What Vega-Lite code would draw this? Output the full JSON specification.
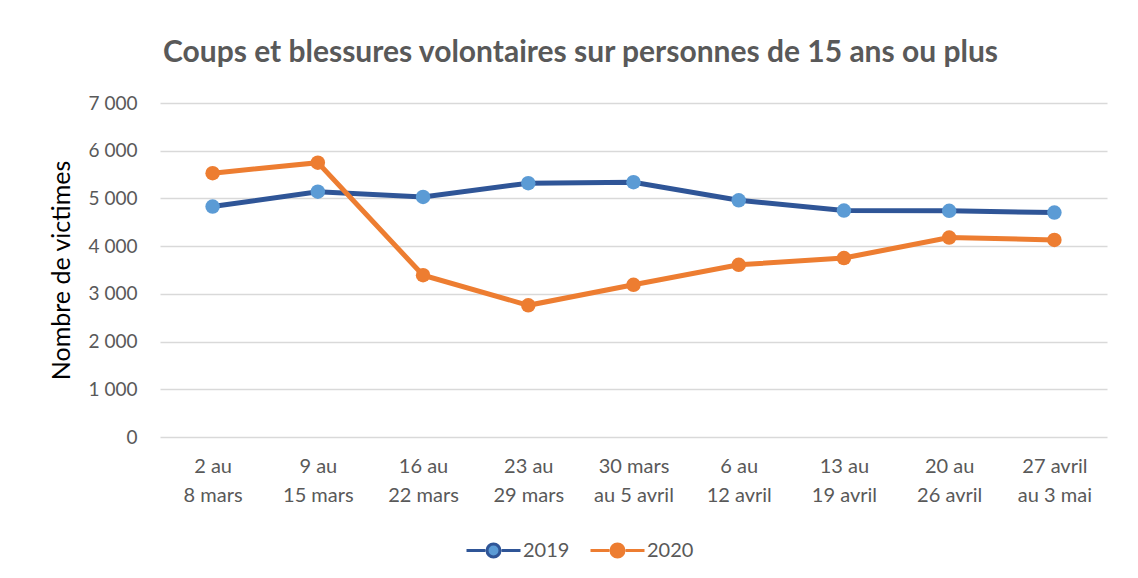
{
  "$schema": "https://vega.github.io/schema/vega-lite/v6.json",
  "width": 947,
  "height": 334,
  "autosize": {"type": "none"},
  "padding": {"left": 160, "top": 103, "right": 31, "bottom": 141},
  "background": "white",
  "title": {
    "text": "Coups et blessures volontaires sur personnes de 15 ans ou plus",
    "font": "Lato",
    "fontSize": 30,
    "fontWeight": "bold",
    "color": "#595959",
    "anchor": "middle",
    "frame": "group",
    "dx": -53,
    "offset": 26
  },
  "data": {
    "values": [
      {"semaine": "2 au|8 mars", "annee": "2019", "victimes": 4830},
      {"semaine": "9 au|15 mars", "annee": "2019", "victimes": 5140},
      {"semaine": "16 au|22 mars", "annee": "2019", "victimes": 5030},
      {"semaine": "23 au|29 mars", "annee": "2019", "victimes": 5320},
      {"semaine": "30 mars|au 5 avril", "annee": "2019", "victimes": 5340},
      {"semaine": "6 au|12 avril", "annee": "2019", "victimes": 4960},
      {"semaine": "13 au|19 avril", "annee": "2019", "victimes": 4745},
      {"semaine": "20 au|26 avril", "annee": "2019", "victimes": 4740},
      {"semaine": "27 avril|au 3 mai", "annee": "2019", "victimes": 4705},
      {"semaine": "2 au|8 mars", "annee": "2020", "victimes": 5530},
      {"semaine": "9 au|15 mars", "annee": "2020", "victimes": 5750},
      {"semaine": "16 au|22 mars", "annee": "2020", "victimes": 3390},
      {"semaine": "23 au|29 mars", "annee": "2020", "victimes": 2760},
      {"semaine": "30 mars|au 5 avril", "annee": "2020", "victimes": 3190},
      {"semaine": "6 au|12 avril", "annee": "2020", "victimes": 3610},
      {"semaine": "13 au|19 avril", "annee": "2020", "victimes": 3750},
      {"semaine": "20 au|26 avril", "annee": "2020", "victimes": 4180},
      {"semaine": "27 avril|au 3 mai", "annee": "2020", "victimes": 4130}
    ]
  },
  "encoding": {
    "x": {
      "field": "semaine",
      "type": "nominal",
      "sort": null,
      "title": null,
      "axis": {
        "labelExpr": "split(datum.label, '|')",
        "labelAngle": 0,
        "labelFont": "Lato",
        "labelFontSize": 20,
        "labelColor": "#595959",
        "labelLineHeight": 29,
        "labelPadding": 19,
        "labelBaseline": "top",
        "ticks": false,
        "domain": false,
        "grid": false
      }
    },
    "y": {
      "field": "victimes",
      "type": "quantitative",
      "scale": {"domain": [0, 7000]},
      "title": "Nombre de victimes",
      "axis": {
        "values": [0, 1000, 2000, 3000, 4000, 5000, 6000, 7000],
        "labelExpr": "replace(format(datum.value, ','), ',', ' ')",
        "labelFont": "Lato",
        "labelFontSize": 19,
        "labelColor": "#595959",
        "labelPadding": 23,
        "ticks": false,
        "domain": false,
        "grid": true,
        "gridColor": "#d9d9d9",
        "gridWidth": 1.5,
        "titleFont": "Lato",
        "titleFontSize": 25,
        "titleFontWeight": "normal",
        "titleColor": "#000000",
        "titlePadding": 14
      }
    }
  },
  "layer": [
    {
      "mark": {"type": "line", "strokeWidth": 5},
      "encoding": {
        "stroke": {
          "field": "annee",
          "type": "nominal",
          "scale": {"domain": ["2019", "2020"], "range": ["#2F5597", "#ED7D31"]},
          "legend": {
            "orient": "none",
            "legendX": 314,
            "legendY": 428,
            "direction": "horizontal",
            "title": null
          }
        }
      }
    },
    {
      "mark": {"type": "point", "filled": true, "size": 210, "opacity": 1},
      "encoding": {
        "fill": {
          "field": "annee",
          "type": "nominal",
          "scale": {"domain": ["2019", "2020"], "range": ["#5B9BD5", "#ED7D31"]},
          "legend": {
            "orient": "none",
            "legendX": 314,
            "legendY": 428,
            "direction": "horizontal",
            "title": null
          }
        }
      }
    }
  ],
  "config": {
    "view": {"stroke": null},
    "legend": {
      "symbolType": "M-1.5,0L-0.45,0M0.45,0L1.5,0M0.36,0A0.36,0.36,0,1,1,-0.36,0A0.36,0.36,0,1,1,0.36,0Z",
      "symbolSize": 1296,
      "symbolStrokeWidth": 3,
      "labelFont": "Lato",
      "labelFontSize": 20,
      "labelColor": "#595959",
      "labelOffset": 10,
      "columnPadding": 14
    }
  }
}
